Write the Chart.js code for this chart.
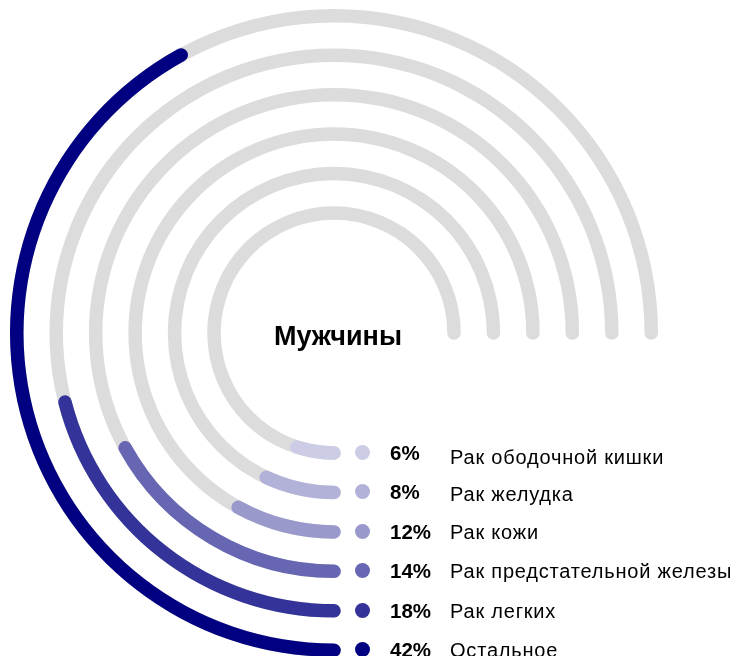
<!DOCTYPE html>
<html>
<head>
<meta charset="utf-8">
<script src="https://cdn.jsdelivr.net/npm/chart.js"></script>
<style>
  html, body { margin: 0; padding: 0; background: #fff; overflow: hidden; }
  body { width: 736px; height: 656px; position: relative; font-family: "Liberation Sans", Arial, sans-serif; color: #000; }
  canvas { position: absolute; left: 10px; top: 9px; }
  .center { position: absolute; left: 238px; width: 200px; top: 323px; text-align: center; font-weight: bold; font-size: 27px; line-height: 27px; }
  .row { position: absolute; left: 0; height: 20px; width: 736px; line-height: 20px; }
  .dot { position: absolute; left: 355px; top: 2px; width: 15px; height: 15px; border-radius: 50%; }
  .pct { position: absolute; left: 390px; font-weight: bold; font-size: 20.5px; }
  .lbl { position: absolute; left: 450px; font-size: 20px; letter-spacing: 0.8px; white-space: nowrap; }
</style>
</head>
<body>
<canvas id="track" width="648" height="648"></canvas>
<canvas id="value" width="648" height="648"></canvas>
<div class="center" id="center"></div>
<div id="legend"></div>
<script>
// data, inner ring first
const categories = ['Рак ободочной кишки', 'Рак желудка', 'Рак кожи', 'Рак предстательной железы', 'Рак легких', 'Остальное'];
const shares = [6, 8, 12, 14, 18, 42];          // numbers printed in the legend
const arcValues = [5, 7, 8, 17, 21, 42];         // arc lengths as drawn, % of a full turn
const trackShare = 75; // grey track covers 3/4 of the circle
const centerTitle = 'Мужчины';

const colors = ['#ccccE6', '#b2b2d9', '#9999cc', '#6666b3', '#333399', '#000080'];
const trackColor = '#dcdcdc';
const none = 'rgba(0,0,0,0)';

const ringWidth = 13.5;
const gapWidth = 25.9;
const holeRadius = 113.25;
const labelNudge = [4, 2, 0, 0, 0, 0];

function ringRadius(i) {
    return holeRadius + ringWidth / 2 + i * (ringWidth + gapWidth);
}
// round caps stick out past the arc ends, like a stroke with lineCap round
function capPct(i) {
    return (ringWidth / 2) / ringRadius(i) / (2 * Math.PI) * 100;
}

// outer ring is the first dataset in a doughnut, so walk from outside in
function buildRings(makeRing) {
    const sets = [];
    for (let i = shares.length - 1; i >= 0; i--) {
        if (sets.length) sets.push({ data: [1], backgroundColor: [none], weight: gapWidth, borderRadius: 0 });
        const c = capPct(i);
        const ring = makeRing(i, c);
        ring.weight = ringWidth;
        ring.borderRadius = 7;
        ring.rotation = 180 - c * 3.6;
        sets.push(ring);
    }
    return sets;
}

function makeChart(id, datasets) {
    return new Chart(document.getElementById(id), {
        type: 'doughnut',
        data: { datasets: datasets },
        options: {
            responsive: false,
            animation: false,
            events: [],
            rotation: 180,
            cutout: holeRadius,
            layout: { padding: 0 },
            elements: { arc: { borderWidth: 0 } },
            plugins: {
                legend: { display: false },
                tooltip: { enabled: false }
            }
        }
    });
}

makeChart('track', buildRings((i, c) => ({
    data: [trackShare + 2 * c, 100 - trackShare - 2 * c],
    backgroundColor: [trackColor, none]
})));

makeChart('value', buildRings((i, c) => ({
    data: [arcValues[i] + 2 * c, 100 - arcValues[i] - 2 * c],
    backgroundColor: [colors[i], none]
})));

document.getElementById('center').textContent = centerTitle;

// legend rows sit level with the bottom of each ring
const cy = 333;
const legend = document.getElementById('legend');
categories.forEach((name, i) => {
    const row = document.createElement('div');
    row.className = 'row';
    row.style.top = (cy + ringRadius(i) - 10) + 'px';
    row.innerHTML = '<span class="dot" style="background:' + colors[i] + '"></span>' +
        '<span class="pct">' + shares[i] + '%</span>' +
        '<span class="lbl" style="top:' + labelNudge[i] + 'px">' + name + '</span>';
    legend.appendChild(row);
});
</script>
</body>
</html>
